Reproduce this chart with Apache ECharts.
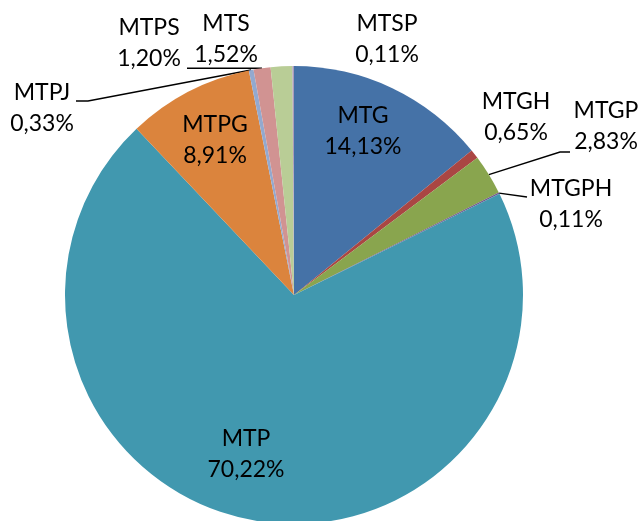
<!DOCTYPE html>
<html>
<head>
<meta charset="utf-8">
<script src="https://cdn.jsdelivr.net/npm/echarts@6/dist/echarts.min.js"></script>
<style>
html,body{margin:0;padding:0;background:#fff;}
#chart{width:644px;height:521px;}
</style>
</head>
<body>
<div id="chart"></div>
<script>
// ---- data ----
const categories = ['MTG', 'MTGH', 'MTGP', 'MTGPH', 'MTP', 'MTPG', 'MTPJ', 'MTPS', 'MTS', 'MTSP'];
const shares = [14.13, 0.65, 2.83, 0.11, 70.22, 8.91, 0.33, 1.20, 1.52, 0.11];

// ---- styling / layout ----
const colors = ['#4572A7', '#AA4643', '#89A54E', '#71588F', '#4198AF', '#DB843D', '#93A9CF', '#D19392', '#B9CD96', '#A99BBD'];
const CX = 294, CY = 295, R = 229;
// label block centres
const labelPos = {
  MTG: [363, 131], MTGH: [516, 117], MTGP: [606, 126], MTGPH: [571, 204],
  MTP: [246, 454], MTPG: [215, 140], MTPJ: [42, 108], MTPS: [149, 43],
  MTS: [226, 39], MTSP: [387, 39]
};
// leader line bends (after the slice edge point)
const leaderBends = {
  MTGP: [[560, 152], [570, 152]],
  MTGPH: [[527, 197]],
  MTPJ: [[88, 101], [76, 101]],
  MTPS: [[187, null]]
};

const total = shares.reduce((a, b) => a + b, 0);
function edgePoint(i) {
  let cum = 0;
  for (let k = 0; k < i; k++) cum += shares[k];
  const mid = (cum + shares[i] / 2) / total * Math.PI * 2;
  return [CX + R * Math.sin(mid), CY - R * Math.cos(mid)];
}

const data = categories.map((c, i) => ({
  name: c,
  value: shares[i],
  itemStyle: { color: colors[i] },
  labelLine: { show: !!leaderBends[c] }
}));

const chart = echarts.init(document.getElementById('chart'), null, { renderer: 'canvas' });
chart.setOption({
  backgroundColor: '#ffffff',
  animation: false,
  series: [{
    type: 'pie',
    center: [CX, CY],
    radius: R,
    startAngle: 90,
    clockwise: true,
    avoidLabelOverlap: false,
    data: data,
    itemStyle: { borderWidth: 0 },
    emphasis: { disabled: true },
    label: {
      show: true,
      position: 'outside',
      color: '#000',
      fontFamily: 'Lato, "Open Sans", sans-serif',
      fontSize: 23,
      lineHeight: 31,
      align: 'center',
      formatter: p => p.name + '\n' + p.value.toFixed(2).replace('.', ',') + '%'
    },
    labelLine: {
      show: true,
      length: 10,
      length2: 10,
      smooth: false,
      lineStyle: { color: '#000', width: 1.4 }
    },
    labelLayout: function (params) {
      const name = categories[params.dataIndex];
      const pos = labelPos[name];
      const out = { x: pos[0], y: pos[1], align: 'center', verticalAlign: 'middle' };
      const bends = leaderBends[name];
      if (bends) {
        const e = edgePoint(params.dataIndex);
        out.labelLinePoints = [e].concat(bends.map(b => [b[0], b[1] == null ? e[1] : b[1]]));
      }
      return out;
    }
  }]
});
</script>
</body>
</html>
